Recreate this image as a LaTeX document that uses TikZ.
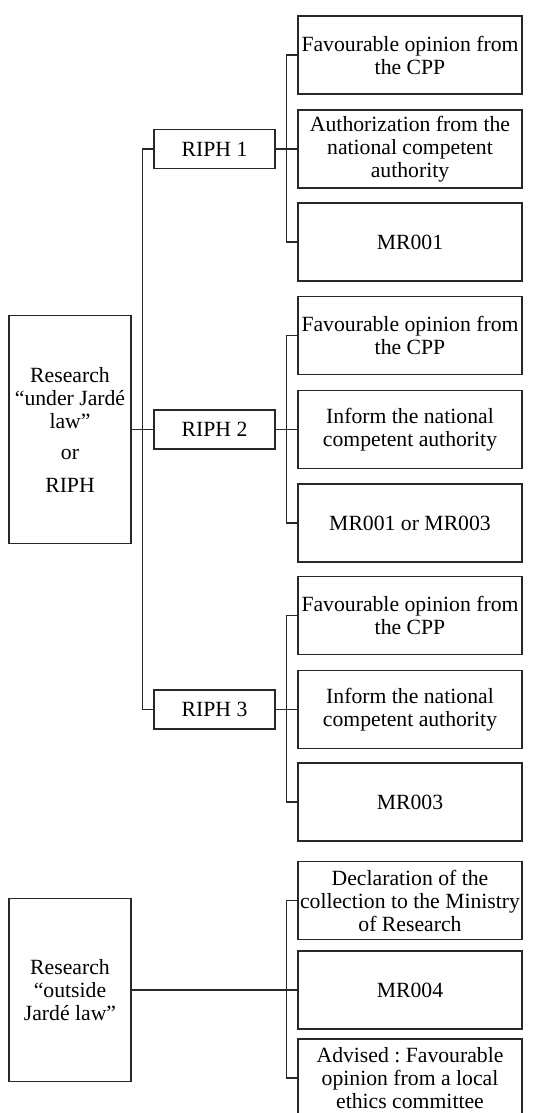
\documentclass[tikz,border=0pt]{standalone}
\usepackage{fontspec}
\setmainfont{Liberation Serif}
\frenchspacing
\definecolor{linec}{RGB}{40,40,40}
\begin{document}
\begin{tikzpicture}[x=1pt,y=-1pt,
  box/.style={draw=linec, line width=1.3pt, rectangle, inner sep=0pt, align=center,
    font=\fontsize{21.7}{23}\selectfont},
  rbox/.style={box, minimum width=224pt, minimum height=78pt},
  riph/.style={box, minimum width=121pt, minimum height=39pt},
  lbox/.style={box, minimum width=122pt},
  conn/.style={draw=linec, line width=1.3pt}]
\clip (0,0) rectangle (555,1113);
\fill[white] (0,0) rectangle (555,1113);

% left boxes
\node[lbox, minimum height=228pt] (L1) at (70,429.5)
  {Research\\“under Jardé\\law”\\[8pt]or\\[10pt]RIPH};
\node[lbox, minimum height=183pt] (L2) at (70,990)
  {Research\\“outside\\Jardé law”};

% RIPH boxes
\node[riph] (R1) at (214.5,149) {RIPH 1};
\node[riph] (R2) at (214.5,429.5) {RIPH 2};
\node[riph] (R3) at (214.5,709.5) {RIPH 3};

% group 1
\node[rbox] (A1) at (410,55) {Favourable opinion from\\the CPP};
\node[rbox] (A2) at (410,149) {Authorization from the\\national competent\\authority};
\node[rbox] (A3) at (410,242) {MR001};
% group 2
\node[rbox] (B1) at (410,335.5) {Favourable opinion from\\the CPP};
\node[rbox] (B2) at (410,429.5) {Inform the national\\competent authority};
\node[rbox] (B3) at (410,523) {MR001 or MR003};
% group 3
\node[rbox] (C1) at (410,615.5) {Favourable opinion from\\the CPP};
\node[rbox] (C2) at (410,709.5) {Inform the national\\competent authority};
\node[rbox] (C3) at (410,802) {MR003};
% group 4
\node[rbox] (D1) at (410,900.5) {Declaration of the\\collection to the Ministry\\of Research};
\node[rbox] (D2) at (410,990) {MR004};
\node[rbox] (D3) at (410,1078) {Advised : Favourable\\opinion from a local\\ethics committee};

% spine
\draw[conn] (L1.east) -- (R2.west);
\draw[conn] (R1.west) -- ++(-11,0) |- (R3.west);

% brackets
\draw[conn] (R1.east) -- (A2.west);
\draw[conn] (A1.west) -- ++(-11,0) |- (A3.west);
\draw[conn] (R2.east) -- (B2.west);
\draw[conn] (B1.west) -- ++(-11,0) |- (B3.west);
\draw[conn] (R3.east) -- (C2.west);
\draw[conn] (C1.west) -- ++(-11,0) |- (C3.west);
\draw[conn] (L2.east) -- (D2.west);
\draw[conn] (D1.west) -- ++(-11,0) |- (D3.west);
\end{tikzpicture}
\end{document}
